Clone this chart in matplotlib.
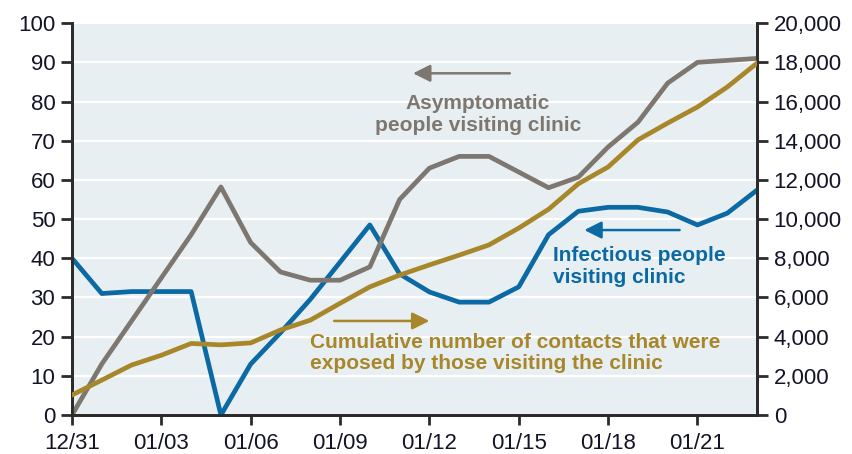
import numpy as np
import matplotlib.pyplot as plt
from matplotlib.ticker import FuncFormatter

plt.rcParams['font.family'] = ['Liberation Sans', 'DejaVu Sans']

# days since 12/31
days = list(range(24))
tick_days = [0, 3, 6, 9, 12, 15, 18, 21]
tick_labels = ["12/31", "01/03", "01/06", "01/09", "01/12", "01/15", "01/18", "01/21"]

infectious = [40, 31, 31.5, 31.5, 31.5, 0, 13, 21, 29.5, 39, 48.5, 36, 31.4, 28.8,
              28.8, 32.7, 46, 52, 53, 53, 51.8, 48.5, 51.5, 57.4]
asymptomatic = [0, 13, 24, 35, 46, 58.2, 44, 36.5, 34.4, 34.4, 37.8, 55, 63, 66,
                66, 62, 58, 60.7, 68.4, 74.7, 84.7, 90, 90.5, 91]
contacts = [1020, 1780, 2550, 3050, 3650, 3580, 3680, 4340, 4840, 5700, 6540, 7140,
            7660, 8160, 8680, 9540, 10500, 11800, 12660, 14040, 14900, 15720, 16740, 17960]

blue = "#0b69a3"
grey = "#7d7770"
gold = "#a8862a"
dark = "#2b2b2b"

fig = plt.figure(figsize=(8.53, 4.54), dpi=100)
ax = fig.add_axes([0.0844, 0.0859, 0.8031, 0.8631])
ax.set_facecolor("#e8eff3")

ax.plot(days, infectious, color=blue, lw=3.4, zorder=3)
ax.plot(days, asymptomatic, color=grey, lw=3.4, zorder=4)

ax.set_xlim(0, 23)
ax.set_ylim(0, 100)
ax.set_yticks(np.arange(0, 101, 10))
ax.set_xticks(tick_days)
ax.set_xticklabels(tick_labels)
ax.grid(axis="y", color="white", lw=1.6, zorder=1)
ax.set_axisbelow(True)

ax2 = ax.twinx()
ax2.plot(days, contacts, color=gold, lw=3.4, zorder=5)
ax2.set_ylim(0, 20000)
ax2.set_yticks(np.arange(0, 20001, 2000))
ax2.yaxis.set_major_formatter(FuncFormatter(lambda v, p: f"{v:,.0f}"))

for a in (ax, ax2):
    a.spines["top"].set_visible(False)
    for s in ("left", "right", "bottom"):
        a.spines[s].set_color(dark)
        a.spines[s].set_linewidth(2)
    a.tick_params(colors=dark, width=2, length=8, labelsize=16, labelcolor="#141428")
ax.tick_params(axis="x", length=7, pad=6)
ax.tick_params(axis="y", pad=4)
ax2.tick_params(axis="y", pad=4)

arrow = dict(arrowstyle="-|>", lw=1.8, mutation_scale=26, shrinkA=0, shrinkB=0)

ax.annotate("", xy=(11.45, 87.2), xytext=(14.7, 87.2),
            arrowprops=dict(arrow, color=grey))
ax.text(13.62, 76.7, "Asymptomatic\npeople visiting clinic", color=grey,
        fontsize=15, fontweight="bold", ha="center", va="center", linespacing=1.2)

ax.annotate("", xy=(17.2, 47.2), xytext=(20.4, 47.2),
            arrowprops=dict(arrow, color=blue))
ax.text(16.16, 37.8, "Infectious people\nvisiting clinic", color=blue,
        fontsize=15, fontweight="bold", ha="left", va="center", linespacing=1.2)

ax.annotate("", xy=(12.0, 24.0), xytext=(8.8, 24.0),
            arrowprops=dict(arrow, color=gold))
ax.text(8.0, 15.9, "Cumulative number of contacts that were\nexposed by those visiting the clinic",
        color=gold, fontsize=15, fontweight="bold", ha="left", va="center", linespacing=1.15)

fig.savefig("out.png", dpi=100)
